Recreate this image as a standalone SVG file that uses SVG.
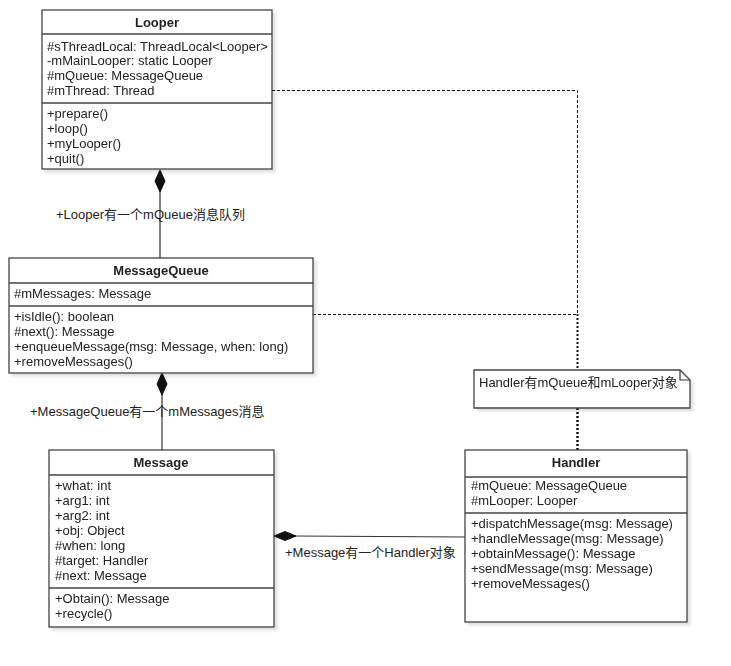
<svg xmlns="http://www.w3.org/2000/svg" width="731" height="666" viewBox="0 0 731 666">
<defs>
<filter id="sh" x="-5%" y="-5%" width="115%" height="115%">
<feGaussianBlur in="SourceAlpha" stdDeviation="1.5"/>
<feOffset dx="3" dy="3"/>
<feComponentTransfer><feFuncA type="linear" slope="0.12"/></feComponentTransfer>
<feMerge><feMergeNode/><feMergeNode in="SourceGraphic"/></feMerge>
</filter>
</defs>
<style>
.box{fill:#fff;stroke:#444;stroke-width:1.3}
.sep{stroke:#444;stroke-width:1.3}
.t{font-family:"Liberation Sans","Noto Sans CJK SC",Arial,sans-serif;font-size:13px;fill:#222}
.b{font-weight:bold;text-anchor:middle}
.ln{stroke:#333;stroke-width:1.2;fill:none}
.dot{stroke:#111;stroke-width:1;fill:none;stroke-dasharray:3,2}
.thick{stroke:#111;fill:none;stroke-dasharray:2,2}
.dia{fill:#111;stroke:#111}
</style>
<rect width="731" height="666" fill="#fff"/>
<g id="connectors">
<path class="dot" d="M272,90.5 H577.5 V314"/>
<path class="dot" d="M313,314.5 H577"/>
<path class="thick" d="M577.5,314 V370" stroke-width="2"/>
<path class="thick" d="M577.5,408 V450" stroke-width="2.5"/>
<line class="ln" x1="160" y1="190" x2="160" y2="258"/>
<polygon class="dia" points="160,170 165,181 160,192 155,181"/>
<text class="t" x="56" y="219">+Looper有一个mQueue消息队列</text>
<line class="ln" x1="162" y1="394" x2="162" y2="450"/>
<polygon class="dia" points="162,373 167,384 162,395 157,384"/>
<text class="t" x="30" y="416">+MessageQueue有一个mMessages消息</text>
<line class="ln" x1="294" y1="536" x2="465" y2="537"/>
<polygon class="dia" points="274,536 285,531.5 296,536 285,540.5"/>
<text class="t" x="285" y="557">+Message有一个Handler对象</text>
</g>
<g id="looper" filter="url(#sh)">
<rect class="box" x="42" y="10" width="230" height="159" stroke="#222"/>
<line class="sep" x1="42" y1="34" x2="272" y2="34"/>
<line class="sep" x1="42" y1="103" x2="272" y2="103"/>
<text class="t b" x="157" y="27">Looper</text>
<text class="t" x="47" y="51">#sThreadLocal: ThreadLocal&lt;Looper&gt;</text>
<text class="t" x="47" y="65">-mMainLooper: static Looper</text>
<text class="t" x="47" y="80">#mQueue: MessageQueue</text>
<text class="t" x="47" y="95">#mThread: Thread</text>
<text class="t" x="47" y="118">+prepare()</text>
<text class="t" x="47" y="133">+loop()</text>
<text class="t" x="47" y="148">+myLooper()</text>
<text class="t" x="47" y="163">+quit()</text>
</g>
<g id="messagequeue" filter="url(#sh)">
<rect class="box" x="9" y="258" width="304" height="115"/>
<line class="sep" x1="9" y1="283" x2="313" y2="283"/>
<line class="sep" x1="9" y1="306" x2="313" y2="306"/>
<text class="t b" x="161" y="275">MessageQueue</text>
<text class="t" x="14" y="298">#mMessages: Message</text>
<text class="t" x="14" y="321">+isIdle(): boolean</text>
<text class="t" x="14" y="336">#next(): Message</text>
<text class="t" x="14" y="351">+enqueueMessage(msg: Message, when: long)</text>
<text class="t" x="14" y="366">+removeMessages()</text>
</g>
<g id="message" filter="url(#sh)">
<rect class="box" x="49" y="450" width="225" height="177"/>
<line class="sep" x1="49" y1="475" x2="274" y2="475"/>
<line class="sep" x1="49" y1="588" x2="274" y2="588"/>
<text class="t b" x="161" y="467">Message</text>
<text class="t" x="55" y="490">+what: int</text>
<text class="t" x="55" y="505">+arg1: int</text>
<text class="t" x="55" y="520">+arg2: int</text>
<text class="t" x="55" y="535">+obj: Object</text>
<text class="t" x="55" y="550">#when: long</text>
<text class="t" x="55" y="565">#target: Handler</text>
<text class="t" x="55" y="580">#next: Message</text>
<text class="t" x="55" y="603">+Obtain(): Message</text>
<text class="t" x="55" y="618">+recycle()</text>
</g>
<g id="handler" filter="url(#sh)">
<rect class="box" x="465" y="450" width="222" height="172"/>
<line class="sep" x1="465" y1="477" x2="687" y2="477"/>
<line class="sep" x1="465" y1="513" x2="687" y2="513"/>
<text class="t b" x="576" y="467">Handler</text>
<text class="t" x="471" y="490">#mQueue: MessageQueue</text>
<text class="t" x="471" y="505">#mLooper: Looper</text>
<text class="t" x="471" y="528">+dispatchMessage(msg: Message)</text>
<text class="t" x="471" y="543">+handleMessage(msg: Message)</text>
<text class="t" x="471" y="558">+obtainMessage(): Message</text>
<text class="t" x="471" y="573">+sendMessage(msg: Message)</text>
<text class="t" x="471" y="588">+removeMessages()</text>
</g>
<g id="note" filter="url(#sh)">
<path class="box" d="M474,370 H680 L690,380 V408 H474 Z"/>
<path class="ln" d="M680,370 V380 H690" stroke="#444"/>
<text class="t" x="479" y="387">Handler有mQueue和mLooper对象</text>
</g>
</svg>
